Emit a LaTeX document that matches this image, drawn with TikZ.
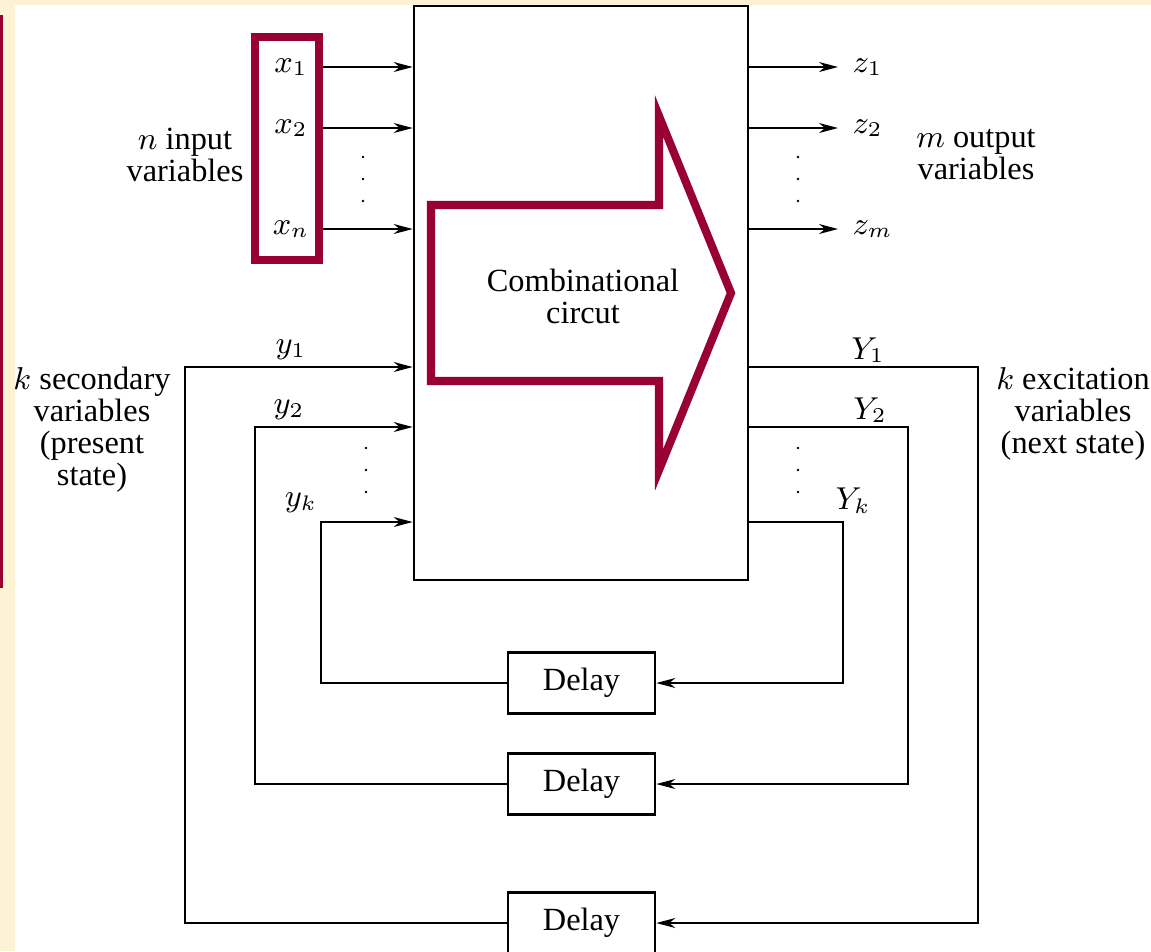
\documentclass[tikz,border=0pt]{standalone}
\usepackage{fontspec}
\setmainfont{Liberation Serif}
\usetikzlibrary{arrows.meta}

\definecolor{cream}{RGB}{254,242,212}
\definecolor{wine}{RGB}{153,0,51}

\tikzset{
  sig/.style={line width=0.45pt, -{Stealth[length=1.9mm,width=1mm,inset=0.6mm]}},
  blk/.style={draw, line width=0.75pt, fill=white, inner sep=0pt},
  lbl/.style={font=\fontsize{9.2}{9.1}\selectfont, align=center, inner sep=0pt},
  hilite/.style={draw=wine, line width=2.3pt, line join=miter},
}

\begin{document}
\begin{tikzpicture}[x=0.1mm,y=-0.1mm]

  % slide background
  \useasboundingbox (0,0) rectangle (1151,951);
  \fill[cream] (0,0) rectangle (1151,951);
  \fill[white] (15,5) rectangle (1151,951);
  \fill[wine] (0,15) rectangle (3,588);

  % combinational block and the three delays
  \begin{scope}[every node/.style={blk, lbl}]
    \node[minimum width=33.4mm, minimum height=57.4mm] (cc) at (581,293) {};
    \node[minimum width=14.7mm, minimum height=6.1mm] (d1) at (581.5,683) {Delay};
    \node[minimum width=14.7mm, minimum height=6.1mm] (d2) at (581.5,784) {Delay};
    \node[minimum width=14.7mm, minimum height=6.1mm] (d3) at (581.5,923) {Delay};
  \end{scope}

  % big arrow through the block
  \draw[hilite] (431,205) -- (659,205) -- (659,116) -- (731,293)
    -- (659,470) -- (659,381) -- (431,381) -- cycle;
  \node[lbl] (cctext) at (583,296) {Combinational\\circut};

  % frame round the inputs
  \node[hilite, minimum width=6.4mm, minimum height=22.3mm] (inbox) at (287,148.5) {};

  % inputs and outputs
  \foreach \n/\y in {1/67, 2/128, n/229} {
    \node[lbl] (x\n) at (291,\y) {$x_{\n}$};
    \draw[sig] (inbox.east |- x\n) -- (cc.west |- x\n);
  }
  \foreach \n/\y in {1/67, 2/128, m/229} {
    \node[lbl, anchor=west] (z\n) at (852,\y) {$z_{\n}$};
    \draw[sig, shorten >=1.4mm] (cc.east |- z\n) -- (z\n.west);
  }

  % feedback loops through the delays
  \foreach \n/\y/\d/\l/\r in {1/367/d3/185/978, 2/427/d2/255/908, k/522/d1/321/843} {
    \draw[sig] (cc.east |- 0,\y) -- (\r,\y) |- (\d.east);
    \draw[sig] (\d.west) -| (\l,\y) -- (cc.west |- 0,\y);
  }
  \node[lbl] (y1) at (291,350) {$y_1$};
  \node[lbl] (y2) at (289,410) {$y_2$};
  \node[lbl] (yk) at (301,503) {$y_k$};
  \node[lbl] (Y1) at (868,350) {$Y_1$};
  \node[lbl] (Y2) at (870,410) {$Y_2$};
  \node[lbl] (Yk) at (853,501) {$Y_k$};

  % vertical dots
  \foreach \x/\y in {363/157, 798/157, 366/448, 798/448} {
    \foreach \k in {0,22,44}
      \fill (\x,\y+\k) circle (1.4);
  }

  % side captions
  \node[lbl] (inlbl) at (185,155) {$n$ input\\variables};
  \node[lbl] (outlbl) at (976,155) {$m$ output\\variables};
  \node[lbl] (seclbl) at (92,430) {$k$ secondary\\variables\\(present\\state)};
  \node[lbl] (exclbl) at (1073,414) {$k$ excitation\\variables\\(next state)};

\end{tikzpicture}
\end{document}
